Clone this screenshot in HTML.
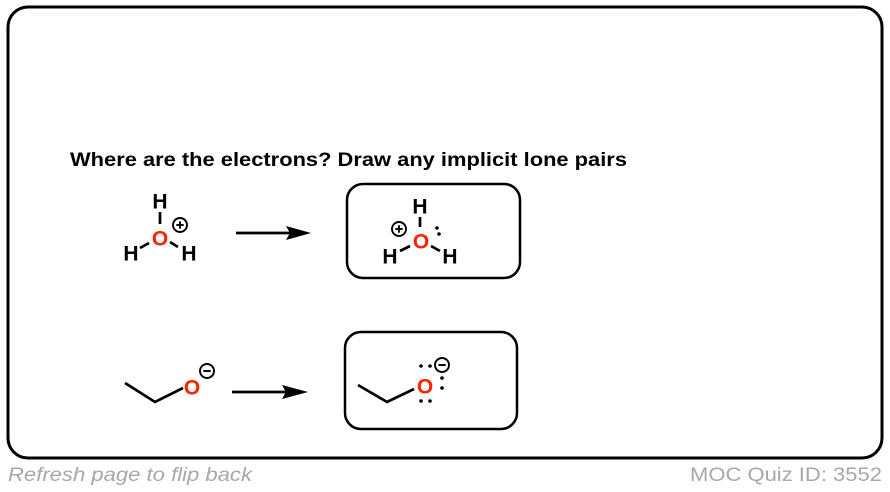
<!DOCTYPE html>
<html><head><meta charset="utf-8"><style>
html,body{margin:0;padding:0;background:#fff;width:890px;height:492px;overflow:hidden}
svg{display:block}
</style></head><body>
<svg width="890" height="492" viewBox="0 0 890 492" xmlns="http://www.w3.org/2000/svg">
<rect x="8" y="7" width="874" height="451" rx="20" ry="20" fill="#fff" stroke="#000" stroke-width="3"/>
<text x="70" y="166" font-family="Liberation Sans, Arial, sans-serif" font-weight="bold" font-size="19.5" fill="#000" textLength="557" lengthAdjust="spacingAndGlyphs">Where are the electrons? Draw any implicit lone pairs</text>

<!-- Molecule 1: H3O+ -->
<g font-family="Liberation Sans, Arial, sans-serif" font-weight="bold" font-size="21" text-anchor="middle">
<text x="160" y="208.5" fill="#000">H</text>
<text x="160" y="245.5" fill="#ff2200">O</text>
<text x="131" y="260.5" fill="#000">H</text>
<text x="189" y="260.5" fill="#000">H</text>
</g>
<g stroke="#000" stroke-width="2.7" fill="none">
<line x1="160" y1="212" x2="160" y2="224"/>
<line x1="140" y1="248" x2="149" y2="243"/>
<line x1="170" y1="242" x2="178" y2="247"/>
<circle cx="180" cy="225" r="7" stroke-width="1.9"/>
<line x1="176.3" y1="225" x2="183.7" y2="225" stroke-width="1.9"/>
<line x1="180" y1="221.3" x2="180" y2="228.7" stroke-width="1.9"/>
</g>

<!-- Arrow 1 -->
<line x1="236" y1="233" x2="290" y2="233" stroke="#000" stroke-width="2.7"/>
<polygon points="286,226 311,233 286,240 290,233" fill="#000"/>

<!-- Box 2 -->
<rect x="347" y="184" width="173" height="94" rx="16" ry="16" fill="none" stroke="#000" stroke-width="2.5"/>
<g font-family="Liberation Sans, Arial, sans-serif" font-weight="bold" font-size="21" text-anchor="middle">
<text x="420" y="213.5" fill="#000">H</text>
<text x="421" y="248.5" fill="#ff2200">O</text>
<text x="390" y="263.5" fill="#000">H</text>
<text x="450" y="263.5" fill="#000">H</text>
</g>
<g stroke="#000" stroke-width="2.7" fill="none">
<line x1="420" y1="217" x2="420" y2="227"/>
<line x1="400" y1="251" x2="410" y2="246"/>
<line x1="431" y1="246" x2="440" y2="251"/>
<circle cx="399" cy="229" r="7" stroke-width="1.9"/>
<line x1="395.3" y1="229" x2="402.7" y2="229" stroke-width="1.9"/>
<line x1="399" y1="225.3" x2="399" y2="232.7" stroke-width="1.9"/>
</g>
<circle cx="437" cy="228" r="1.8" fill="#000"/>
<circle cx="439" cy="234" r="1.8" fill="#000"/>

<!-- Molecule 3: ethoxide -->
<polyline points="125,383 155,402 183,388" fill="none" stroke="#000" stroke-width="2.7"/>
<text x="192" y="394.5" font-family="Liberation Sans, Arial, sans-serif" font-weight="bold" font-size="21" text-anchor="middle" fill="#ff2200">O</text>
<circle cx="207" cy="371" r="7" fill="none" stroke="#000" stroke-width="1.9"/>
<line x1="203.3" y1="371" x2="210.7" y2="371" stroke="#000" stroke-width="1.9"/>

<!-- Arrow 2 -->
<line x1="232" y1="392" x2="286" y2="392" stroke="#000" stroke-width="2.7"/>
<polygon points="282,385 308,392 282,399 286,392" fill="#000"/>

<!-- Box 4 -->
<rect x="345" y="332" width="172" height="97" rx="16" ry="16" fill="none" stroke="#000" stroke-width="2.5"/>
<polyline points="358,385 387,402 414,389" fill="none" stroke="#000" stroke-width="2.7"/>
<text x="425" y="393.5" font-family="Liberation Sans, Arial, sans-serif" font-weight="bold" font-size="21" text-anchor="middle" fill="#ff2200">O</text>
<circle cx="442" cy="365" r="7" fill="none" stroke="#000" stroke-width="1.9"/>
<line x1="438.3" y1="365" x2="445.7" y2="365" stroke="#000" stroke-width="1.9"/>
<g fill="#000">
<circle cx="421" cy="366" r="1.8"/>
<circle cx="430" cy="366" r="1.8"/>
<circle cx="442" cy="378" r="1.8"/>
<circle cx="442" cy="388" r="1.8"/>
<circle cx="421" cy="401" r="1.8"/>
<circle cx="430" cy="401" r="1.8"/>
</g>

<!-- Footer -->
<text x="8" y="481" font-family="Liberation Sans, Arial, sans-serif" font-style="italic" font-size="19.5" fill="#a8a8a8" textLength="244" lengthAdjust="spacingAndGlyphs">Refresh page to flip back</text>
<text x="882" y="481" font-family="Liberation Sans, Arial, sans-serif" font-size="19.5" fill="#a8a8a8" text-anchor="end" textLength="192" lengthAdjust="spacingAndGlyphs">MOC Quiz ID: 3552</text>
</svg>
</body></html>
